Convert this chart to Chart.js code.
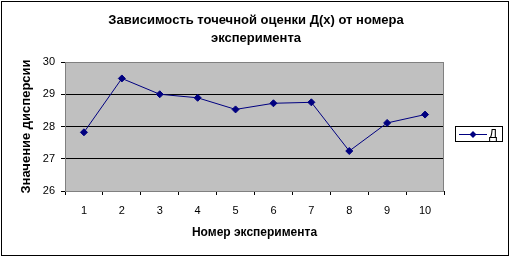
<!DOCTYPE html>
<html><head><meta charset="utf-8">
<script src="https://cdn.jsdelivr.net/npm/chart.js@4"></script>
<style>html,body{margin:0;padding:0;background:#fff}canvas{display:block}</style>
</head><body>
<canvas id="c" width="512" height="260" style="width:512px;height:260px"></canvas>
<script>
const categories = ['1','2','3','4','5','6','7','8','9','10'];
const values = [27.82, 29.49, 29.0, 28.89, 28.53, 28.72, 28.75, 27.24, 28.11, 28.37];
const yTicks = [26, 27, 28, 29, 30];
const seriesName = 'Д';
const titleLines = ['Зависимость точечной оценки Д(x) от номера', 'эксперимента'];
const xTitle = 'Номер эксперимента';
const yTitle = 'Значение дисперсии';

const FONT = '"Liberation Sans", Arial, sans-serif';
const NAVY = '#000080';

const decor = {
  id: 'decor',
  beforeDraw(chart) {
    const ctx = chart.ctx, a = chart.chartArea;
    ctx.save();
    ctx.fillStyle = '#fff';
    ctx.fillRect(0, 0, chart.width, chart.height);
    ctx.fillStyle = '#C0C0C0';
    ctx.fillRect(a.left, a.top, a.right - a.left, a.bottom - a.top);
    ctx.restore();
  },
  afterDraw(chart) {
    const ctx = chart.ctx, a = chart.chartArea;
    ctx.save();
    ctx.strokeStyle = '#808080'; ctx.lineWidth = 1;
    ctx.strokeRect(a.left + 0.5, a.top + 0.5, a.right - a.left - 1, a.bottom - a.top);
    ctx.strokeStyle = '#000';
    ctx.strokeRect(1.5, 1.5, 507, 254);
    ctx.fillStyle = '#000';
    ctx.textAlign = 'center'; ctx.textBaseline = 'alphabetic';
    ctx.font = 'bold 13px ' + FONT;
    ctx.fillText(titleLines[0], 256, 24);
    ctx.fillText(titleLines[1], 256, 42);
    ctx.font = 'bold 12px ' + FONT;
    ctx.fillText(xTitle, (a.left + a.right) / 2, 236);
    ctx.save();
    ctx.translate(30, (a.top + a.bottom) / 2);
    ctx.rotate(-Math.PI / 2);
    ctx.font = 'bold 13px ' + FONT;
    ctx.fillText(yTitle, 0, 0);
    ctx.restore();
    // legend
    ctx.fillStyle = '#fff';
    ctx.fillRect(455, 126, 48, 15);
    ctx.strokeStyle = '#000';
    ctx.strokeRect(455.5, 126.5, 47, 15);
    ctx.strokeStyle = NAVY; ctx.lineWidth = 1;
    ctx.beginPath(); ctx.moveTo(459, 134.5); ctx.lineTo(487, 134.5); ctx.stroke();
    ctx.fillStyle = NAVY;
    ctx.beginPath();
    ctx.moveTo(473, 131); ctx.lineTo(476.5, 134.5); ctx.lineTo(473, 138); ctx.lineTo(469.5, 134.5); ctx.closePath(); ctx.fill();
    ctx.fillStyle = '#000';
    ctx.font = '12px ' + FONT;
    ctx.textAlign = 'left'; ctx.textBaseline = 'middle';
    ctx.fillText(seriesName, 489, 135);
    ctx.restore();
  }
};

new Chart(document.getElementById('c'), {
  type: 'line',
  data: {
    labels: categories,
    datasets: [{
      label: seriesName,
      data: values,
      borderColor: NAVY,
      backgroundColor: NAVY,
      borderWidth: 1,
      pointStyle: 'rectRot',
      pointRadius: 3.5,
      pointHoverRadius: 3.5,
      tension: 0
    }]
  },
  options: {
    responsive: false,
    animation: false,
    events: [],
    layout: { padding: { top: 62, left: 0, right: 68, bottom: 0 } },
    plugins: { legend: { display: false }, title: { display: false }, tooltip: { enabled: false } },
    scales: {
      x: {
        offset: true,
        grid: { offset: true, drawOnChartArea: false, color: '#000', tickLength: 4, tickColor: '#000' },
        border: { color: '#000' },
        ticks: { color: '#000', font: { family: FONT, size: 11 }, padding: 9, maxRotation: 0 },
        afterFit(s) { s.height = 69; }
      },
      y: {
        min: 26, max: 30,
        afterBuildTicks(s) { s.ticks = yTicks.map(v => ({ value: v })); },
        grid: { color: '#000', tickLength: 4, tickColor: '#000' },
        border: { color: '#000' },
        ticks: { color: '#000', font: { family: FONT, size: 11 }, padding: 6 },
        afterFit(s) { s.width = 65; }
      }
    }
  },
  plugins: [decor]
});
</script>
</body></html>
